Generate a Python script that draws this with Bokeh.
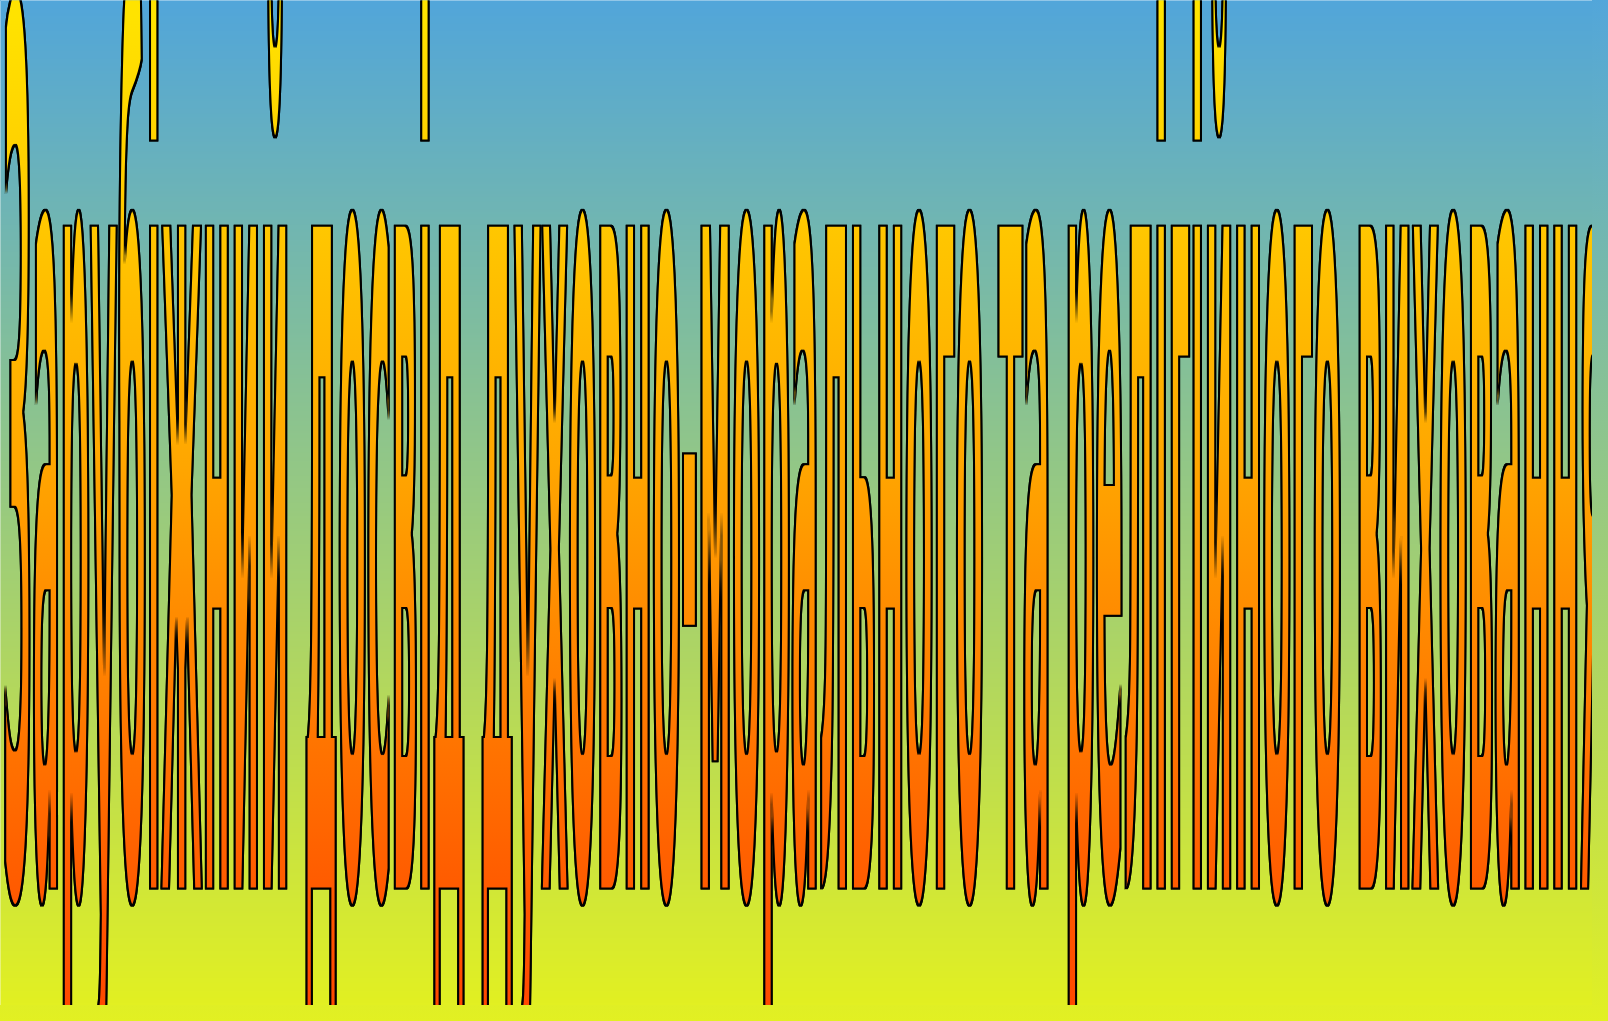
import numpy as np
from bokeh.plotting import figure
from bokeh.models import Range1d, CustomJS
from bokeh.document import Document
from bokeh.embed import file_html
from bokeh.resources import INLINE
from bokeh.core.properties import value

# ---- content -------------------------------------------------------------
title_words = ["Зарубіжний", "досвід", "духовно-морального", "та", "релігійного", "виховання"]
title_text = " ".join(title_words)

# background: vertical gradient, top -> bottom
bg_positions = [0.0, 0.5, 1.0]
bg_colors = ["#52A6DA", "#98CA80", "#E2F022"]

# letter fill: vertical gradient, top -> bottom
fill_positions = [0.0, 0.2, 0.44, 0.87, 1.0]
fill_colors = ["#FFE300", "#FFC800", "#FFA600", "#FF5800", "#FF4500"]

# ---- layout --------------------------------------------------------------
W, H = 1592, 1005
FONT_PX = 40          # font size the text is laid out with
EM_PX = 1212          # rendered em height after the vertical stretch
BASELINE = 874        # baseline, px from top of the figure
LEFT = 2              # left edge of the text, px
TEXT_W = 1604         # total rendered width of the line (last letter is cut)

p = figure(width=W, height=H, x_range=Range1d(0, W), y_range=Range1d(0, H),
           output_backend="svg", toolbar_location=None, min_border=0,
           x_axis_location=None, y_axis_location=None,
           outline_line_color=None, border_fill_color="#E2F022")
p.grid.visible = False


def hex2rgb(h):
    h = h.lstrip("#")
    return [int(h[i:i + 2], 16) for i in (0, 2, 4)]


rows = 400
t = np.linspace(1.0, 0.0, rows)          # row 0 is the bottom of the image
rgb = np.array([hex2rgb(c) for c in bg_colors], dtype=float)
img = np.empty((rows, 1), dtype=np.uint32)
view = img.view(dtype=np.uint8).reshape((rows, 1, 4))
for k in range(3):
    view[:, 0, k] = np.interp(t, bg_positions, rgb[:, k]).astype(np.uint8)
view[:, 0, 3] = 255
p.image_rgba(image=[img], x=0, y=0, dw=W, dh=H)

p.text(x=[LEFT], y=[H - BASELINE], text=[title_text],
       text_font=value("DejaVu Sans"), text_font_style="bold",
       text_font_size=f"{FONT_PX}px", text_color="#FF9200",
       text_baseline="alphabetic", text_align="left")

wordart = CustomJS(args=dict(title=title_text, target_w=TEXT_W, em_px=EM_PX,
                             font_px=FONT_PX, top_off=BASELINE - 2, bot_off=H - BASELINE + 5,
                             fpos=fill_positions, fcol=fill_colors, bgcol=bg_colors), code="""
const NS = "http://www.w3.org/2000/svg";
try {
  const grad = `linear-gradient(${bgcol.join(", ")})`;
  document.documentElement.style.minHeight = "100%";
  document.documentElement.style.backgroundImage = grad;
  document.documentElement.style.backgroundAttachment = "fixed";
  document.body.style.backgroundColor = "transparent";
} catch (e) {}
function collect(root, out) {
  for (const el of root.querySelectorAll("*")) {
    if (el.tagName && el.tagName.toLowerCase() === "text" &&
        el.textContent === title && !el.hasAttribute("data-wa")) out.push(el);
    if (el.shadowRoot) collect(el.shadowRoot, out);
  }
}
function mk(tag, attrs) {
  const e = document.createElementNS(NS, tag);
  for (const k in attrs) e.setAttribute(k, String(attrs[k]));
  return e;
}
function apply() {
  const found = [];
  collect(document, found);
  for (const el of found) {
    const svg = el.ownerSVGElement;
    if (!svg) continue;
    const bb = el.getBBox();
    if (!bb || bb.width <= 0) continue;
    el.setAttribute("data-wa", "1");
    const by = parseFloat(el.getAttribute("y") || "0");
    const bx = bb.x;
    const sx = target_w / bb.width;
    const sy = em_px / font_px;
    const base = el.getAttribute("transform") || "";
    el.setAttribute("transform", base + ` translate(${bx} ${by}) scale(${sx} ${sy}) translate(${-bx} ${-by})`);
    let defs = svg.querySelector("defs");
    if (!defs) { defs = document.createElementNS(NS, "defs"); svg.insertBefore(defs, svg.firstChild); }
    const uid = Math.random().toString(36).slice(2);
    // fill gradient
    const g = mk("linearGradient", {id: "wa-fill-" + uid, x1: 0, y1: 0, x2: 0, y2: 1});
    const o1 = ((by - top_off / sy) - bb.y) / bb.height;
    const o2 = ((by + bot_off / sy) - bb.y) / bb.height;
    for (let i = 0; i < fpos.length; i++) {
      const off = Math.min(1, Math.max(0, o1 + fpos[i] * (o2 - o1)));
      g.appendChild(mk("stop", {offset: off, "stop-color": fcol[i]}));
    }
    defs.appendChild(g);
    // outline drawn in screen space with a morphology filter on a wrapper group
    const f = mk("filter", {id: "wa-outline-" + uid, x: "-5%", y: "-5%", width: "110%", height: "110%",
                            "color-interpolation-filters": "sRGB"});
    f.appendChild(mk("feMorphology", {in: "SourceAlpha", operator: "dilate", radius: 1.3, result: "d"}));
    f.appendChild(mk("feMorphology", {in: "SourceAlpha", operator: "erode", radius: 1.0, result: "e"}));
    f.appendChild(mk("feComposite", {in: "d", in2: "e", operator: "out", result: "ring"}));
    const m = mk("feMerge", {});
    m.appendChild(mk("feMergeNode", {in: "SourceGraphic"}));
    m.appendChild(mk("feMergeNode", {in: "ring"}));
    f.appendChild(m);
    defs.appendChild(f);
    const fill = `url(#wa-fill-${uid})`;
    el.setAttribute("fill", fill); el.style.fill = fill;
    el.setAttribute("stroke", "none"); el.style.stroke = "none";
    const wrap = mk("g", {filter: `url(#wa-outline-${uid})`});
    el.parentNode.insertBefore(wrap, el);
    wrap.appendChild(el);
  }
}
apply();
let n = 0;
const timer = setInterval(() => { apply(); if (++n > 150) clearInterval(timer); }, 30);
""")

doc = Document()
doc.add_root(p)
doc.js_on_event("document_ready", wordart)

open("out.html", "w").write(file_html(p, INLINE))
